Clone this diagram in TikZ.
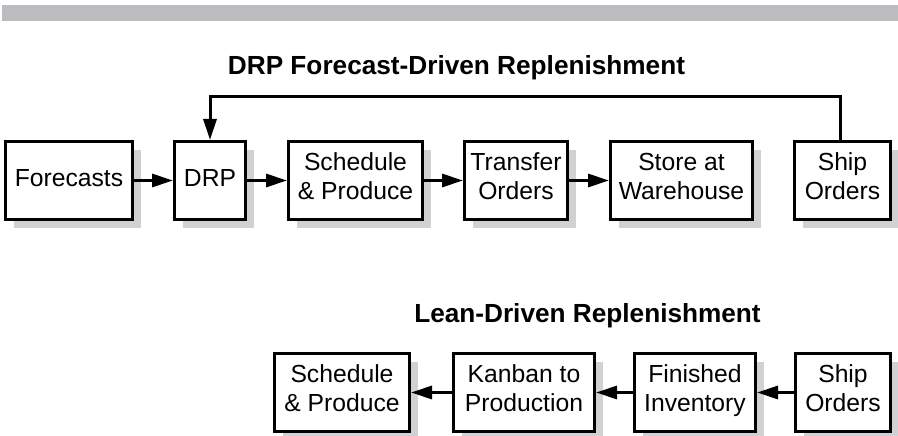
\documentclass[tikz,border=0pt]{standalone}
\usepackage{fontspec}
\setmainfont{Liberation Sans}
\usetikzlibrary{arrows.meta,shadows}
\definecolor{bargray}{HTML}{BBBCBF}
\definecolor{shgray}{HTML}{D0D1D3}
\begin{document}
\begin{tikzpicture}[x=1pt,y=-1pt,
  box/.style={draw=black, line width=3pt, fill=white, inner sep=0pt, align=center,
    minimum height=78pt,
    font=\fontsize{24.7}{28.5}\selectfont,
    execute at begin node=\strut, execute at end node=\strut,
    drop shadow={shadow xshift=8pt, shadow yshift=-8pt, fill=shgray, opacity=1, draw=none}},
  title/.style={font=\fontsize{26.2}{30}\selectfont\bfseries, anchor=base, inner sep=0pt},
  arr/.style={line width=3pt, -{Triangle[length=21pt,width=13pt]}}]
\useasboundingbox (0,0) rectangle (898,436);
\fill[bargray] (2,5) rectangle (898,21);

\node[title] (t1) at (456.5,75) {DRP Forecast-Driven Replenishment};
\node[title] (t2) at (587.5,322) {Lean-Driven Replenishment};

% top row
\node[box, minimum width=127pt] (fc) at (69,180.5) {Forecasts};
\node[box, minimum width=71pt] (drp) at (210,180.5) {DRP};
\node[box, minimum width=134pt] (sp1) at (355.5,180.5) {Schedule\\\& Produce};
\node[box, minimum width=103pt] (tr) at (516,180.5) {Transfer\\Orders};
\node[box, minimum width=142pt] (st) at (681.5,180.5) {Store at\\Warehouse};
\node[box, minimum width=96pt] (sh1) at (842.5,180.5) {Ship\\Orders};

\draw[arr] (fc) -- (drp);
\draw[arr] (drp) -- (sp1);
\draw[arr] (sp1) -- (tr);
\draw[arr] (tr) -- (st);
\coordinate (fb) at (840,97);
\draw[arr] (sh1.north -| fb) -- (fb) -- (drp.north |- fb) -- (drp.north);

% bottom row
\node[box, minimum width=135pt] (sp2) at (342,392.5) {Schedule\\\& Produce};
\node[box, minimum width=141pt] (kb) at (524,392.5) {Kanban to\\Production};
\node[box, minimum width=121pt] (fi) at (695,392.5) {Finished\\Inventory};
\node[box, minimum width=95pt] (sh2) at (843,392.5) {Ship\\Orders};

\draw[arr] (sh2) -- (fi);
\draw[arr] (fi) -- (kb);
\draw[arr] (kb) -- (sp2);
\end{tikzpicture}
\end{document}
